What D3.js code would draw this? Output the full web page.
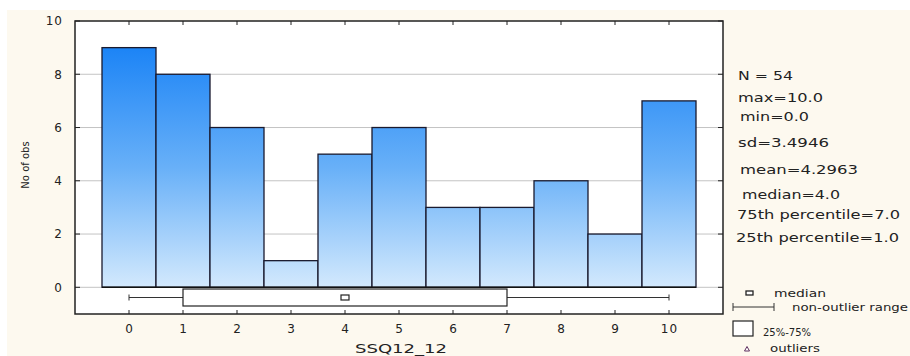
<!DOCTYPE html>
<html><head><meta charset="utf-8">
<script src="https://cdn.jsdelivr.net/npm/d3@7"></script>
<style>body{margin:0;background:#fff}svg{display:block}text{font-family:"DejaVu Sans",Verdana,sans-serif}</style>
</head><body>
<svg id="c" width="910" height="356"></svg>
<script>
const categories = [0,1,2,3,4,5,6,7,8,9,10];
const counts = [9,8,6,1,5,6,3,3,4,2,7];
const yTicks = [0,2,4,6,8,10];
const boxStats = {min:0, q1:1, median:4, q3:7, max:10};
const statLines = ["N = 54","max=10.0","min=0.0","sd=3.4946","mean=4.2963","median=4.0","75th percentile=7.0","25th percentile=1.0"];

const svg = d3.select("#c");
svg.append("rect").attr("x",7).attr("y",10).attr("width",903).attr("height",346).attr("fill","#fdf9ef");

const L=75,R=723,T=21,B=314;
const xs = d3.scaleLinear().domain([0,10]).range([129,669]);
const y = d3.scaleLinear().domain([0,10]).range([287.3,21]);
const yBot = 314;

svg.append("rect").attr("x",L).attr("y",T).attr("width",R-L).attr("height",B-T).attr("fill","#fff");

const defs = svg.append("defs");
const g = defs.append("linearGradient").attr("id","bg").attr("gradientUnits","userSpaceOnUse")
  .attr("x1",0).attr("x2",0).attr("y1",y(9)).attr("y2",y(0));
g.append("stop").attr("offset","0").attr("stop-color","#1c84f6");
g.append("stop").attr("offset","0.5").attr("stop-color","#68b0f8");
g.append("stop").attr("offset","1").attr("stop-color","#d3e9fd");

svg.append("g").selectAll("line").data(yTicks.filter(d=>d<10)).join("line")
  .attr("x1",L).attr("x2",R).attr("y1",d=>y(d)).attr("y2",d=>y(d))
  .attr("stroke","#c4c4c4").attr("stroke-width",1);

const w = xs(1)-xs(0);
svg.append("g").selectAll("rect").data(categories).join("rect")
  .attr("x",(d)=>xs(d)-w/2).attr("width",w)
  .attr("y",(d,i)=>y(counts[i])).attr("height",(d,i)=>y(0)-y(counts[i]))
  .attr("fill","url(#bg)").attr("stroke","#1a1a2e").attr("stroke-width",1.3);

svg.append("line").attr("x1",xs(-0.5)).attr("x2",xs(10.5)).attr("y1",y(0)).attr("y2",y(0)).attr("stroke","#111").attr("stroke-width",1.6);

const by = 297.5;
svg.append("line").attr("x1",xs(boxStats.min)).attr("x2",xs(boxStats.q1)).attr("y1",by).attr("y2",by).attr("stroke","#333");
svg.append("line").attr("x1",xs(boxStats.q3)).attr("x2",xs(boxStats.max)).attr("y1",by).attr("y2",by).attr("stroke","#333");
[boxStats.min,boxStats.max].forEach(v=>svg.append("line").attr("x1",xs(v)).attr("x2",xs(v)).attr("y1",by-3).attr("y2",by+3).attr("stroke","#333"));
svg.append("rect").attr("x",xs(boxStats.q1)).attr("width",xs(boxStats.q3)-xs(boxStats.q1)).attr("y",289).attr("height",17)
  .attr("fill","#fff").attr("stroke","#222").attr("stroke-width",1.2);
svg.append("rect").attr("x",xs(boxStats.median)-4).attr("y",by-2.5).attr("width",8).attr("height",5).attr("fill","#fff").attr("stroke","#222").attr("stroke-width",1.2);

svg.append("rect").attr("x",L).attr("y",T).attr("width",R-L).attr("height",B-T).attr("fill","none").attr("stroke","#222").attr("stroke-width",1.5);

const yAxis = d3.axisLeft(y).tickValues(yTicks).tickSize(0).tickPadding(12);
const ya = svg.append("g").attr("transform",`translate(${L},0)`).call(yAxis);
ya.select(".domain").remove();
ya.selectAll("text").attr("font-size",12).attr("letter-spacing",1).attr("fill","#222").attr("font-family","DejaVu Sans");
svg.append("g").selectAll("line").data(yTicks).join("line").attr("x1",R-5).attr("x2",R).attr("y1",d=>y(d)).attr("y2",d=>y(d)).attr("stroke","#222");
svg.append("g").selectAll("line").data(yTicks).join("line").attr("x1",L).attr("x2",L+5).attr("y1",d=>y(d)).attr("y2",d=>y(d)).attr("stroke","#222");

const xAxis = d3.axisBottom(xs).tickValues(categories).tickFormat(d3.format("d")).tickSize(0).tickPadding(10);
const xa = svg.append("g").attr("transform",`translate(0,${yBot})`).call(xAxis);
xa.select(".domain").remove();
xa.selectAll("text").attr("font-size",12).attr("letter-spacing",1).attr("fill","#222").attr("font-family","DejaVu Sans");
svg.append("g").selectAll("line").data(categories).join("line").attr("x1",d=>xs(d)).attr("x2",d=>xs(d)).attr("y1",yBot-4).attr("y2",yBot).attr("stroke","#222");
svg.append("g").selectAll("line").data(categories).join("line").attr("x1",d=>xs(d)).attr("x2",d=>xs(d)).attr("y1",T).attr("y2",T+4).attr("stroke","#222");

svg.append("text").attr("x",355).attr("y",353).attr("font-size",12).attr("fill","#222")
  .attr("textLength",92).attr("lengthAdjust","spacingAndGlyphs").text("SSQ12_12");
svg.append("text").attr("transform","translate(29,165) rotate(-90)").attr("text-anchor","middle").attr("font-size",10).attr("fill","#222").text("No of obs");

const sy=[80,102,121,147,174,199,219,242];
const sx=[738,738,740,738,740,742,737,736];
const sw=[55,85,69,91,118,98,163,163];
svg.append("g").selectAll("text").data(statLines).join("text")
  .attr("x",(d,i)=>sx[i]).attr("y",(d,i)=>sy[i]).attr("font-size",11.5).attr("fill","#222")
  .attr("textLength",(d,i)=>sw[i]).attr("lengthAdjust","spacingAndGlyphs").text(d=>d);

const lg = svg.append("g").attr("fill","#222");
lg.append("rect").attr("x",746).attr("y",291).attr("width",7).attr("height",4).attr("fill","#fff").attr("stroke","#222").attr("stroke-width",1.3);
lg.append("text").attr("x",774).attr("y",297).attr("font-size",10).attr("textLength",52).attr("lengthAdjust","spacingAndGlyphs").text("median");
lg.append("line").attr("x1",733).attr("x2",774).attr("y1",307).attr("y2",307).attr("stroke","#333");
lg.append("line").attr("x1",733).attr("x2",733).attr("y1",303).attr("y2",311).attr("stroke","#333");
lg.append("line").attr("x1",774).attr("x2",774).attr("y1",303).attr("y2",311).attr("stroke","#333");
lg.append("text").attr("x",792).attr("y",311).attr("font-size",10).attr("textLength",116).attr("lengthAdjust","spacingAndGlyphs").text("non-outlier range");
lg.append("rect").attr("x",733).attr("y",321).attr("width",20).attr("height",15).attr("fill","#fff").attr("stroke","#222").attr("stroke-width",1.2);
lg.append("text").attr("x",763).attr("y",336).attr("font-size",10).attr("textLength",48).attr("lengthAdjust","spacingAndGlyphs").text("25%-75%");
lg.append("path").attr("d","M744.5,351 L747,346.5 L749.5,351 Z").attr("fill","#fff").attr("stroke","#603060").attr("stroke-width",1);
lg.append("text").attr("x",770).attr("y",352).attr("font-size",10).attr("textLength",50).attr("lengthAdjust","spacingAndGlyphs").text("outliers");
</script>
</body></html>
